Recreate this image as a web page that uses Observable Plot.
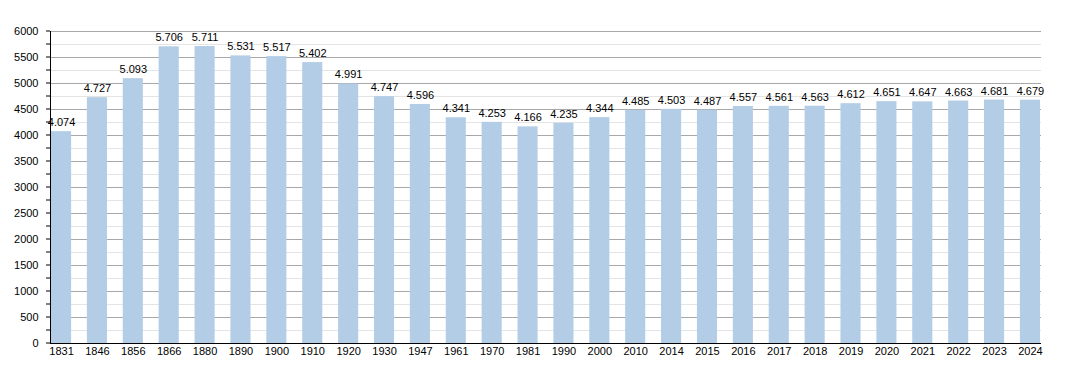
<!DOCTYPE html>
<html><head><meta charset="utf-8">
<script src="https://cdn.jsdelivr.net/npm/d3@7"></script>
<script src="https://cdn.jsdelivr.net/npm/@observablehq/plot@0.6"></script>
<style>body{margin:0;background:#fff}svg{display:block}</style>
</head><body><div id="chart"></div>
<script>
const years = ["1831","1846","1856","1866","1880","1890","1900","1910","1920","1930","1947","1961","1970","1981","1990","2000","2010","2014","2015","2016","2017","2018","2019","2020","2021","2022","2023","2024"];
const population = [4074,4727,5093,5706,5711,5531,5517,5402,4991,4747,4596,4341,4253,4166,4235,4344,4485,4503,4487,4557,4561,4563,4612,4651,4647,4663,4681,4679];
const majorTicks = d3.range(0, 6001, 500);
const minorTicks = d3.range(250, 6000, 500);
const allTicks = d3.range(0, 6001, 250);

const data = years.map((y, i) => ({year: y, value: population[i]}));
const fmt = v => d3.format(",")(v).replace(/,/g, ".");

const chart = Plot.plot({
  width: 1070, height: 373,
  marginLeft: 50, marginRight: 29, marginTop: 31, marginBottom: 30,
  style: {fontFamily: "Liberation Sans, Arial, sans-serif", fontSize: "11px", color: "#000"},
  x: {domain: years, range: [51, 1040], round: false, paddingInner: 0.44, paddingOuter: 0, align: 0, label: null, tickSize: 0, tickPadding: 4},
  y: {domain: [0, 6000], label: null, ticks: majorTicks, tickFormat: "d", tickSize: 0, tickPadding: 12},
  marks: [
    Plot.ruleY(minorTicks, {stroke: "#e4e4e4", strokeWidth: 1}),
    Plot.ruleY(majorTicks.filter(d => d > 0), {stroke: "#a8a8a8", strokeWidth: 1}),
    Plot.barY(data, {x: "year", y: "value", fill: "#b3cde6"}),
    Plot.text(data, {x: "year", y: "value", text: d => fmt(d.value), dy: -9, fontSize: 11, fill: "#000"}),
    Plot.tickY(allTicks, {
      render: (index, scales) => {
        const g = d3.create("svg:g");
        for (const i of index) {
          const yv = scales.y(allTicks[i]);
          g.append("line").attr("x1", 46).attr("x2", 50).attr("y1", yv).attr("y2", yv).attr("stroke", "#000");
        }
        return g.node();
      }}),
    Plot.frame({anchor: "left", stroke: "#000"}),
    Plot.ruleY([0], {stroke: "#000"})
  ]
});
document.getElementById("chart").append(chart);
</script></body></html>
